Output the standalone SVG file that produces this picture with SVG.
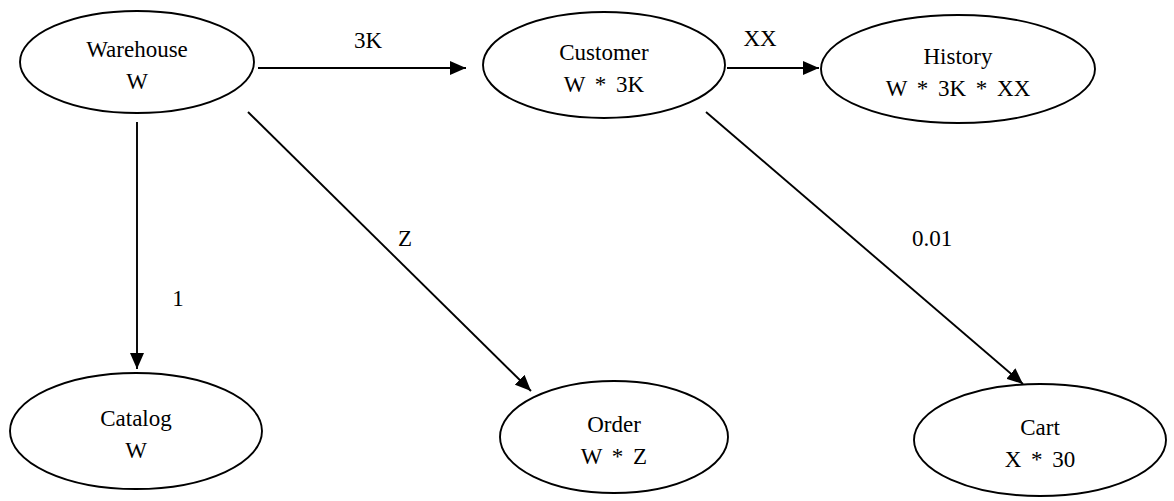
<svg xmlns="http://www.w3.org/2000/svg" width="1174" height="501" viewBox="0 0 1174 501">
<style>
.n ellipse{fill:#fff;stroke:#000;stroke-width:1.9}
text{font-family:"Liberation Serif","DejaVu Serif","Times New Roman",serif;font-size:23px;fill:#000;text-anchor:middle;word-spacing:4px}
.c line{stroke:#000;stroke-width:1.9;marker-end:url(#ah)}
</style>
<defs>
<marker id="ah" viewBox="0 0 16 14" refX="16" refY="7" markerWidth="16" markerHeight="14" markerUnits="userSpaceOnUse" orient="auto"><path d="M0,0 L16,7 L0,14 z" fill="#000"/></marker>
</defs>
<rect width="1174" height="501" fill="#fff"/>
<g class="c" id="connectors">
<line x1="258" y1="68" x2="466" y2="68"/>
<line x1="727" y1="68" x2="819" y2="68"/>
<line x1="137" y1="122" x2="137" y2="369"/>
<line x1="248" y1="112" x2="531" y2="391"/>
<line x1="706" y1="112" x2="1023" y2="384"/>
<text x="368" y="48">3K</text>
<text x="760" y="46">XX</text>
<text x="178" y="306">1</text>
<text x="405" y="246">Z</text>
<text x="932" y="246">0.01</text>
</g>
<g class="n" id="warehouse"><ellipse cx="137" cy="62" rx="117" ry="51"/><text x="137" y="57">Warehouse</text><text x="137" y="89">W</text></g>
<g class="n" id="customer"><ellipse cx="604" cy="65" rx="121" ry="53"/><text x="604" y="60">Customer</text><text x="604" y="92">W * 3K</text></g>
<g class="n" id="history"><ellipse cx="958" cy="69" rx="137" ry="54"/><text x="958" y="64">History</text><text x="958" y="96">W * 3K * XX</text></g>
<g class="n" id="catalog"><ellipse cx="136" cy="431" rx="126" ry="58"/><text x="136" y="426">Catalog</text><text x="136" y="458">W</text></g>
<g class="n" id="order"><ellipse cx="614" cy="437" rx="114" ry="56"/><text x="614" y="432">Order</text><text x="614" y="464">W * Z</text></g>
<g class="n" id="cart"><ellipse cx="1040" cy="440" rx="126" ry="56"/><text x="1040" y="435">Cart</text><text x="1040" y="467">X * 30</text></g>
</svg>
